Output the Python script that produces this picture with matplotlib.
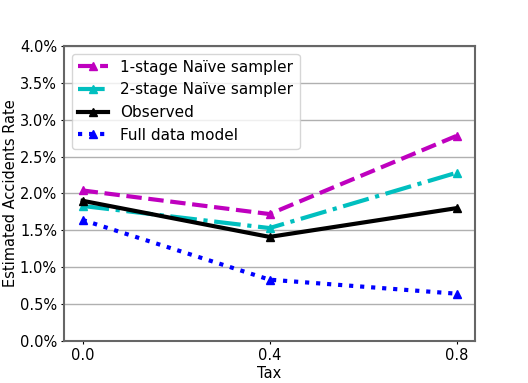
import matplotlib
matplotlib.use("Agg")
import matplotlib.pyplot as plt
from matplotlib.ticker import PercentFormatter

tax = [0.0, 0.4, 0.8]
one_stage = [2.04, 1.72, 2.78]
two_stage = [1.83, 1.53, 2.28]
observed = [1.90, 1.41, 1.80]
full_model = [1.64, 0.83, 0.64]

plt.rcParams['font.size'] = 10.5
fig, ax = plt.subplots(figsize=(5.28, 3.83), dpi=100)
ax.plot(tax, one_stage, '--', color='m', marker='^', lw=3, ms=6, label='1-stage Naïve sampler')
ax.plot(tax, two_stage, '-.', color='c', marker='^', lw=3, ms=6, label='2-stage Naïve sampler')
ax.plot(tax, observed, '-', color='k', marker='^', lw=3, ms=6, label='Observed')
ax.plot(tax, full_model, ':', color='b', marker='^', lw=3, ms=6, label='Full data model')

ax.set_ylim(0, 4.0)
ax.set_yticks([0, 0.5, 1.0, 1.5, 2.0, 2.5, 3.0, 3.5, 4.0])
ax.yaxis.set_major_formatter(PercentFormatter(decimals=1))
ax.set_xticks(tax)
ax.set_xticklabels(['0.0', '0.4', '0.8'])
ax.tick_params(length=2.5, pad=2.5)
ax.yaxis.grid(True, color='#b0b0b0', lw=1)
ax.set_axisbelow(True)
for s in ax.spines.values():
    s.set_color('#666666')
    s.set_linewidth(1.5)
ax.set_xlabel('Tax', labelpad=2)
ax.set_ylabel('Estimated Accidents Rate', labelpad=1)
ax.legend(loc='upper left', fontsize=11)
fig.subplots_adjust(left=0.121, right=0.9, top=0.88, bottom=0.11)
fig.savefig('out.png')
